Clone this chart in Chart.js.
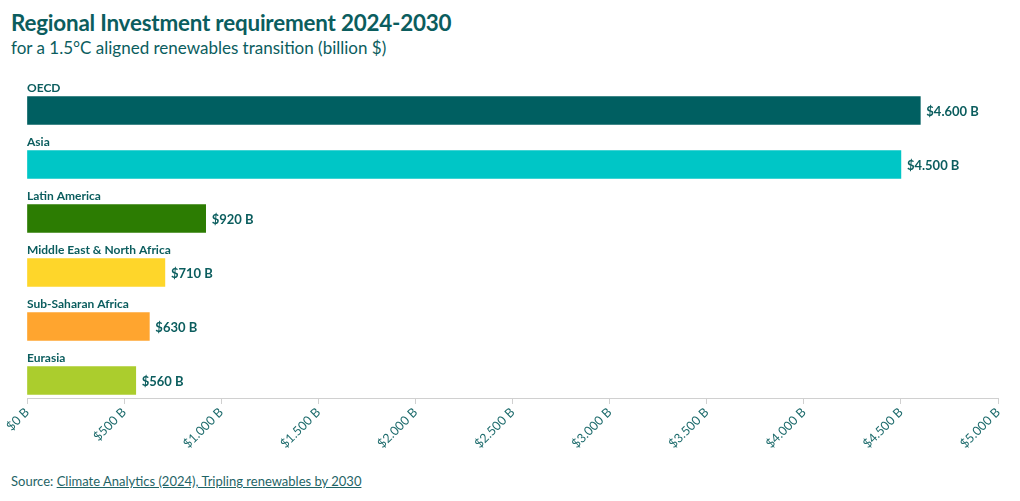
<!DOCTYPE html>
<html>
<head>
<meta charset="utf-8">
<script src="https://cdn.jsdelivr.net/npm/chart.js@4"></script>
<style>
  html, body { margin: 0; padding: 0; background: #fff; }
  body { width: 1020px; height: 501px; position: relative; overflow: hidden; font-family: Lato, "Noto Sans", sans-serif; color: #0b5d5e; }
  #title { position: absolute; left: 11px; top: 9px; font-size: 22.4px; font-weight: 700; letter-spacing: -0.2px; }
  #subtitle { position: absolute; left: 11px; top: 37px; font-size: 17px; font-weight: 400; }
  #source { position: absolute; left: 11px; top: 473px; font-size: 13px; color: #1f6466; }
  #source a { color: #1f6466; text-decoration: underline; }
  #wrap { position: absolute; left: 0; top: 0; width: 1020px; height: 460px; }
</style>
</head>
<body>
<div id="title">Regional Investment requirement 2024-2030</div>
<div id="subtitle">for a 1.5°C aligned renewables transition (billion $)</div>
<div id="wrap"><canvas id="chart"></canvas></div>
<div id="source">Source: <a href="#">Climate Analytics (2024), Tripling renewables by 2030</a></div>
<script>
// Données du graphique
const regions = ['OECD', 'Asia', 'Latin America', 'Middle East & North Africa', 'Sub-Saharan Africa', 'Eurasia'];
const investment = [4600, 4500, 920, 710, 630, 560];
const xTickValues = [0, 500, 1000, 1500, 2000, 2500, 3000, 3500, 4000, 4500, 5000];

const barColors = ['#005f61', '#00c6c6', '#2c7c02', '#fed62a', '#ffa52f', '#abcd2d'];
const textColor = '#0b5d5e';

// "$4.600 B" : séparateur de milliers avec un point
function fmtBillions(v) {
    return '$' + String(v).replace(/\B(?=(\d{3})+(?!\d))/g, '.') + ' B';
}

// Libellés des régions au-dessus des barres et valeurs à droite
const barLabels = {
    id: 'barLabels',
    afterDatasetsDraw(chart) {
        const ctx = chart.ctx;
        const meta = chart.getDatasetMeta(0);
        ctx.save();
        ctx.fillStyle = textColor;
        meta.data.forEach((bar, i) => {
            ctx.font = 'bold 12px Lato, "Noto Sans", sans-serif';
            ctx.textAlign = 'left';
            ctx.textBaseline = 'bottom';
            ctx.fillText(regions[i], chart.chartArea.left, bar.y - bar.height / 2 - 2);
            ctx.font = 'bold 13px Lato, "Noto Sans", sans-serif';
            ctx.textBaseline = 'middle';
            ctx.fillText(fmtBillions(investment[i]), bar.x + 6, bar.y + 1);
        });
        ctx.restore();
    }
};

new Chart(document.getElementById('chart'), {
    type: 'bar',
    data: {
        datasets: [{
            data: investment.map((v, i) => ({ x: v, y: i })),
            backgroundColor: barColors,
            barThickness: 28,
            borderWidth: 0
        }]
    },
    options: {
        indexAxis: 'y',
        responsive: true,
        maintainAspectRatio: false,
        animation: false,
        layout: { padding: { left: 27, right: 22, top: 78, bottom: 0 } },
        plugins: { legend: { display: false }, tooltip: { enabled: false } },
        scales: {
            y: {
                type: 'linear',
                reverse: true,
                offset: false,
                min: -0.602,
                max: 5.324,
                display: false
            },
            x: {
                type: 'linear',
                min: 0,
                max: 5000,
                afterBuildTicks(scale) {
                    scale.ticks = xTickValues.map(v => ({ value: v }));
                },
                afterFit(scale) {
                    scale.height = 62;
                    scale.paddingLeft = 0;
                    scale.paddingRight = 0;
                },
                border: { color: '#d0d0d0', width: 1 },
                grid: { drawOnChartArea: false, drawTicks: true, tickLength: 6, color: '#d0d0d0' },
                ticks: {
                    color: '#1d6b6c',
                    font: { family: 'Lato, "Noto Sans", sans-serif', size: 12.5 },
                    minRotation: 45,
                    maxRotation: 45,
                    padding: 1,
                    callback: v => fmtBillions(v)
                }
            }
        }
    },
    plugins: [barLabels]
});
</script>
</body>
</html>
